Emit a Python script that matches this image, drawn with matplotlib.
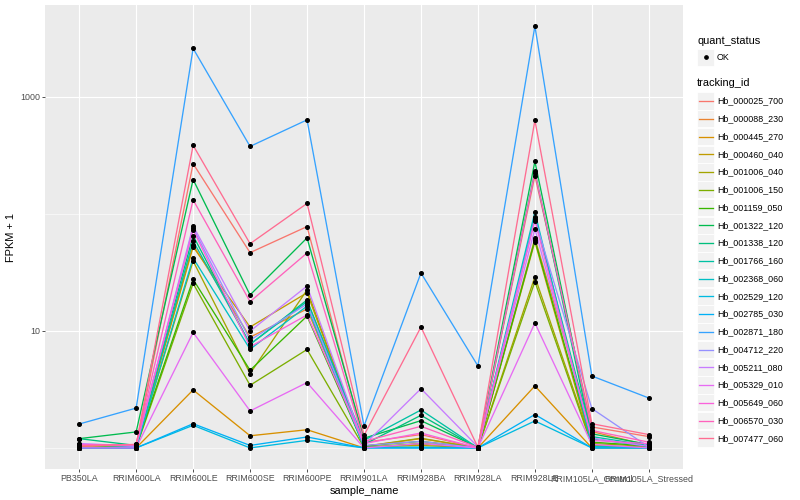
import numpy as np
import matplotlib
matplotlib.use('Agg')
import matplotlib.pyplot as plt
from matplotlib.patches import Rectangle
from matplotlib.lines import Line2D

plt.rcParams['font.family'] = ['Liberation Sans', 'DejaVu Sans']

# x categories
sample_names = ['PB350LA', 'RRIM600LA', 'RRIM600LE', 'RRIM600SE', 'RRIM600PE',
                'RRIM901LA', 'RRIM928BA', 'RRIM928LA', 'RRIM928LE',
                'RRIM105LA_Control', 'RRIM105LA_Stressed']

tracking_ids = ['Hb_000025_700', 'Hb_000088_230', 'Hb_000445_270', 'Hb_000460_040',
                'Hb_001006_040', 'Hb_001006_150', 'Hb_001159_050', 'Hb_001322_120',
                'Hb_001338_120', 'Hb_001766_160', 'Hb_002368_060', 'Hb_002529_120',
                'Hb_002785_030', 'Hb_002871_180', 'Hb_004712_220', 'Hb_005211_080',
                'Hb_005329_010', 'Hb_005649_060', 'Hb_006570_030', 'Hb_007477_060']

# FPKM + 1, one value per sample
hb_000025_700 = [1.03, 1.05, 269, 46.7, 78.0, 1.115, 1.30, 1.0, 212, 1.51, 1.25]
hb_000088_230 = [1.0, 1.02, 54.4, 8.85, 15.4, 1.03, 1.20, 1.0, 62.0, 1.38, 1.05]
hb_000445_270 = [1.0, 1.0, 3.13, 1.27, 1.43, 1.0, 1.086, 1.0, 3.39, 1.0, 1.0]
hb_000460_040 = [1.0, 1.01, 52.3, 10.8, 21.2, 1.02, 1.05, 1.0, 58.0, 1.03, 1.02]
hb_001006_040 = [1.0, 1.02, 39.6, 4.32, 22.4, 1.03, 1.21, 1.0, 29.1, 1.09, 1.03]
hb_001006_150 = [1.01, 1.0, 25.5, 3.43, 6.94, 1.01, 1.09, 1.0, 26.4, 1.05, 1.01]
hb_001159_050 = [1.0, 1.03, 27.6, 4.61, 13.4, 1.04, 1.137, 1.0, 60.0, 1.12, 1.04]
hb_001322_120 = [1.20, 1.37, 197, 20.3, 62.4, 1.21, 1.71, 1.01, 281, 1.32, 1.07]
hb_001338_120 = [1.20, 1.05, 65.3, 7.66, 18.4, 1.07, 1.90, 1.0, 231, 1.20, 1.03]
hb_001766_160 = [1.0, 1.02, 58.8, 7.71, 17.8, 1.16, 2.11, 1.0, 94.4, 1.25, 1.05]
hb_002368_060 = [1.0, 1.0, 42.0, 6.98, 16.3, 1.01, 1.016, 1.0, 104, 1.03, 1.0]
hb_002529_120 = [1.0, 1.0, 1.56, 1.0, 1.16, 1.0, 1.0, 1.0, 1.70, 1.0, 1.0]
hb_002785_030 = [1.0, 1.0, 1.61, 1.05, 1.24, 1.0, 1.0, 1.0, 1.93, 1.0, 1.0]
hb_002871_180 = [1.60, 2.19, 2600, 378, 637, 1.54, 31.3, 5.02, 4036, 4.12, 2.67]
hb_004712_220 = [1.07, 1.03, 76.0, 8.34, 17.0, 1.05, 1.137, 1.0, 90.8, 2.17, 1.016]
hb_005211_080 = [1.09, 1.04, 79.1, 9.96, 24.2, 1.06, 3.21, 1.02, 74.5, 1.21, 1.03]
hb_005329_010 = [1.0, 1.0, 9.71, 2.07, 3.62, 1.0, 1.09, 1.0, 11.7, 1.07, 1.0]
hb_005649_060 = [1.07, 1.06, 73.1, 7.31, 13.7, 1.09, 1.34, 1.0, 87.8, 1.16, 1.086]
hb_006570_030 = [1.05, 1.07, 132, 17.8, 46.4, 1.137, 1.53, 1.01, 226, 1.41, 1.12]
hb_007477_060 = [1.04, 1.07, 386, 55.7, 123, 1.28, 10.8, 1.01, 631, 1.61, 1.30]

series = [hb_000025_700, hb_000088_230, hb_000445_270, hb_000460_040,
          hb_001006_040, hb_001006_150, hb_001159_050, hb_001322_120,
          hb_001338_120, hb_001766_160, hb_002368_060, hb_002529_120,
          hb_002785_030, hb_002871_180, hb_004712_220, hb_005211_080,
          hb_005329_010, hb_005649_060, hb_006570_030, hb_007477_060]

# ggplot default hue palette for 20 levels
hue_colors = ['#F8766D', '#EA8331', '#D89000', '#C09B00', '#A3A500', '#7CAE00',
              '#39B600', '#00BB4E', '#00BF7D', '#00C1A3', '#00BFC4', '#00BAE0',
              '#00B0F6', '#35A2FF', '#9590FF', '#C77CFF', '#E76BF3', '#FA62DB',
              '#FF62BC', '#FF6C91']

W, H = 800, 500


def fig_xy(x, y):
    '''pixel (from top-left) -> figure fraction'''
    return x / W, 1 - y / H


fig = plt.figure(figsize=(8, 5), dpi=100)
# panel from x=45..683, y=5..469 px
ax = fig.add_axes([45 / W, 1 - 469 / H, (683 - 45) / W, (469 - 5) / H])
ax.set_facecolor('#EBEBEB')

x = np.arange(len(sample_names))
for vals, col in zip(series, hue_colors):
    ax.plot(x, vals, color=col, lw=0.95, zorder=2)
for vals in series:
    ax.plot(x, vals, ls='none', marker='o', ms=2.6, color='black', zorder=3)

ax.set_yscale('log')
all_vals = np.concatenate([np.array(s, dtype=float) for s in series])
lo, hi = np.log10(all_vals.min()), np.log10(all_vals.max())
pad = 0.05 * (hi - lo)
ax.set_ylim(10 ** (lo - pad), 10 ** (hi + pad))
ax.set_xlim(-0.6, len(sample_names) - 0.4)

ax.set_yticks([10, 1000])
ax.set_yticklabels(['10', '1000'])
ax.set_yticks([1, 100], minor=True)
ax.yaxis.set_minor_formatter(matplotlib.ticker.NullFormatter())
ax.set_xticks(x)
ax.set_xticklabels(sample_names)

ax.grid(which='major', color='white', lw=0.8)
ax.grid(which='minor', axis='y', color='white', lw=0.4)
ax.set_axisbelow(True)
for sp in ax.spines.values():
    sp.set_visible(False)
ax.tick_params(which='major', length=2, width=0.6, color='#333333',
               labelsize=6.4, labelcolor='#4D4D4D', pad=1.5)
ax.tick_params(which='minor', length=0)

ax.set_xlabel('sample_name', fontsize=7.9, labelpad=2)
ax.set_ylabel('FPKM + 1', fontsize=7.9, labelpad=3)

# legends, drawn ggplot-style at the right
key_w, key_h = 17, 17.3
fig.text(*fig_xy(697, 40.7), 'quant_status', fontsize=7.9, va='center', ha='left')
kx, ky = fig_xy(697, 57.3 + key_h / 2)
fig.add_artist(Rectangle((kx, ky), key_w / W, key_h / H, transform=fig.transFigure,
                         facecolor='#F2F2F2', edgecolor='white', lw=0.6))
fig.add_artist(Line2D([fig_xy(705.5, 0)[0]], [fig_xy(0, 57.3)[1]], marker='o', ms=2.4,
                      color='black', transform=fig.transFigure))
fig.text(*fig_xy(717, 57.3), 'OK', fontsize=6.4, va='center', ha='left')

fig.text(*fig_xy(697, 83.3), 'tracking_id', fontsize=7.9, va='center', ha='left')
for i, (name, col) in enumerate(zip(tracking_ids, hue_colors)):
    yc = 101 + 17.75 * i
    kx, ky = fig_xy(697, yc + key_h / 2)
    fig.add_artist(Rectangle((kx, ky), key_w / W, key_h / H, transform=fig.transFigure,
                             facecolor='#F2F2F2', edgecolor='white', lw=0.6))
    x0, yy = fig_xy(698.5, yc)
    x1, _ = fig_xy(712.5, yc)
    fig.add_artist(Line2D([x0, x1], [yy, yy], color=col, lw=0.95,
                          transform=fig.transFigure))
    fig.text(*fig_xy(717, yc), name, fontsize=6.4, va='center', ha='left')

fig.savefig('out.png', dpi=100)
